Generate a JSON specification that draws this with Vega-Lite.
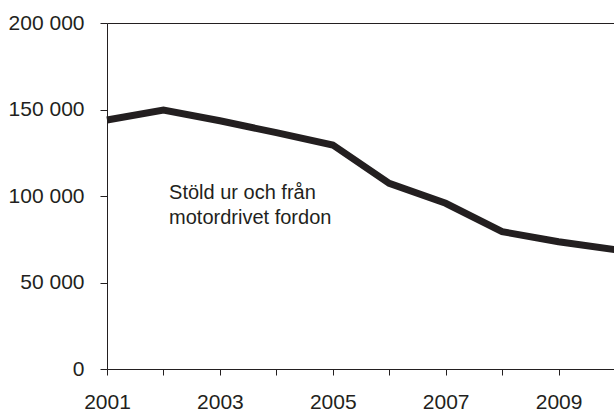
{
  "$schema": "https://vega.github.io/schema/vega-lite/v6.json",
  "autosize": "none",
  "width": 508,
  "height": 346,
  "padding": {"left": 107, "top": 23, "right": 0, "bottom": 45},
  "background": "white",
  "config": {
    "view": {"stroke": null},
    "font": "Liberation Sans",
    "axis": {
      "domainColor": "#231f20",
      "tickColor": "#231f20",
      "labelColor": "#231f20",
      "labelFont": "Liberation Sans",
      "labelFontSize": 21,
      "domainWidth": 1,
      "tickWidth": 1
    }
  },
  "datasets": {
    "series": [
      {"year": 2001, "value": 143900},
      {"year": 2002, "value": 149700},
      {"year": 2003, "value": 143500},
      {"year": 2004, "value": 136600},
      {"year": 2005, "value": 129500},
      {"year": 2006, "value": 107300},
      {"year": 2007, "value": 95800},
      {"year": 2008, "value": 79400},
      {"year": 2009, "value": 73600},
      {"year": 2010, "value": 69000}
    ],
    "note": [
      {"year": 2002.1, "value": 98400, "label": ["Stöld ur och från", "motordrivet fordon"]}
    ]
  },
  "layer": [
    {
      "data": {"name": "series"},
      "mark": {"type": "line", "color": "#231f20", "strokeWidth": 7, "strokeJoin": "miter", "clip": false},
      "encoding": {
        "x": {
          "field": "year", "type": "quantitative",
          "scale": {"domain": [2001, 2010], "nice": false, "zero": false},
          "axis": {
            "title": null,
            "values": [2001, 2002, 2003, 2004, 2005, 2006, 2007, 2008, 2009, 2010],
            "labelExpr": "datum.value % 2 == 1 ? datum.value + '' : ''",
            "tickSize": 6,
            "labelPadding": 16,
            "grid": false,
            "labelFlush": false,
            "labelOverlap": false
          }
        },
        "y": {
          "field": "value", "type": "quantitative",
          "scale": {"domain": [0, 200000], "nice": false},
          "axis": {
            "title": null,
            "values": [0, 50000, 100000, 150000, 200000],
            "format": ",d",
            "labelExpr": "replace(datum.label, ',', ' ')",
            "tickSize": 7,
            "labelPadding": 16,
            "grid": true,
            "gridColor": "#231f20",
            "gridWidth": 1,
            "gridOpacity": {"condition": {"test": "datum.value === 200000", "value": 1}, "value": 0}
          }
        }
      }
    },
    {
      "data": {"name": "note"},
      "mark": {"type": "text", "align": "left", "baseline": "alphabetic", "fontSize": 20, "lineHeight": 25, "color": "#231f20", "font": "Liberation Sans"},
      "encoding": {
        "x": {"field": "year", "type": "quantitative"},
        "y": {"field": "value", "type": "quantitative"},
        "text": {"field": "label"}
      }
    }
  ]
}
